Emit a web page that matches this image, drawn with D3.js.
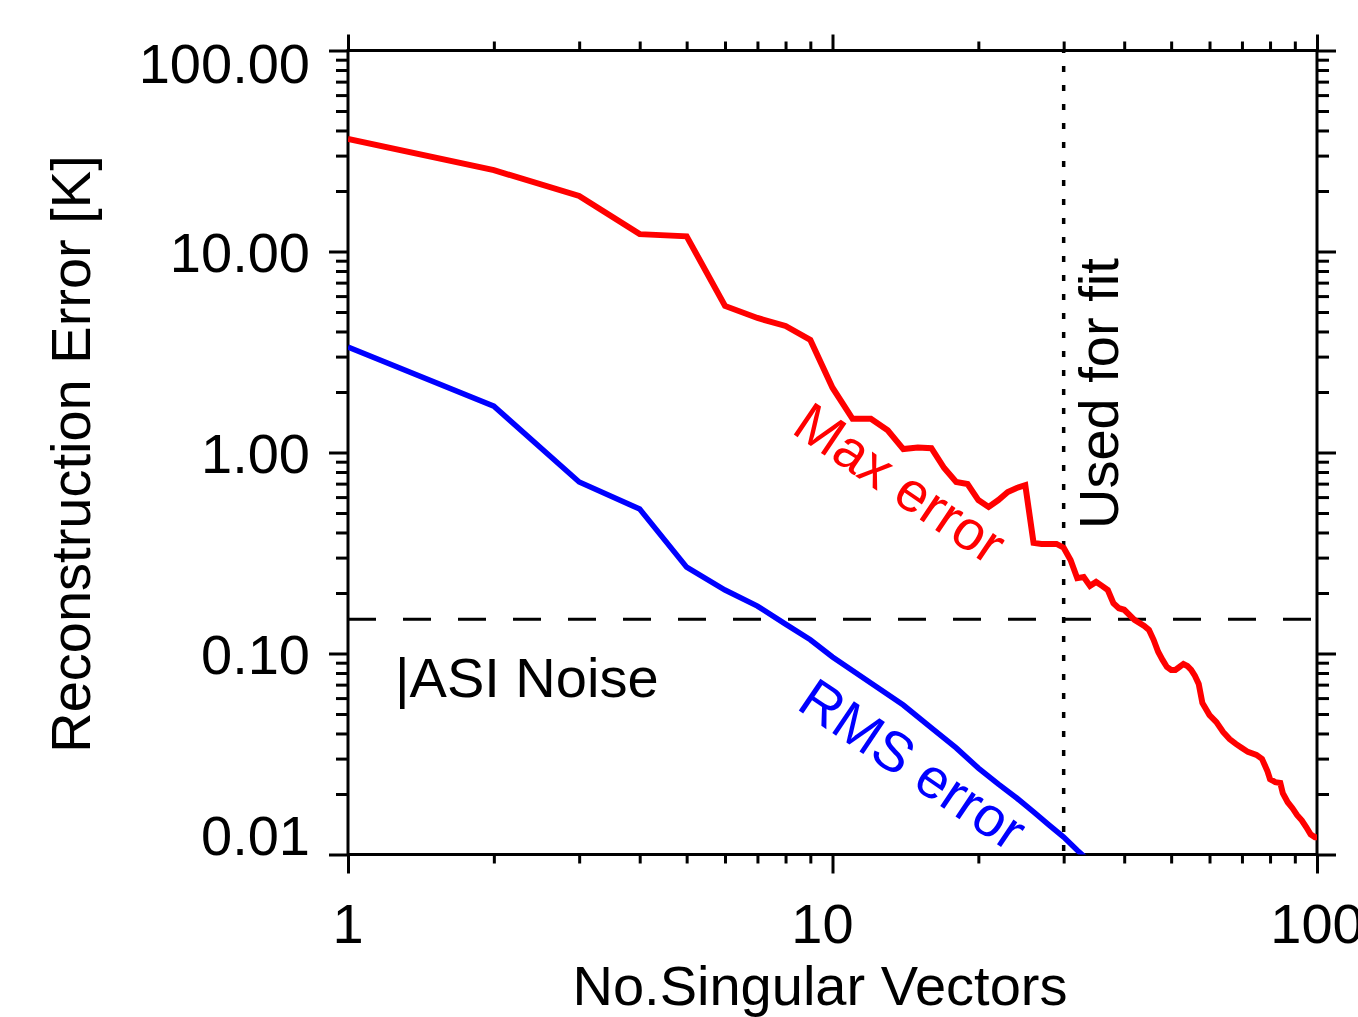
<!DOCTYPE html>
<meta charset="utf-8">
<style>
body { margin: 0; background: #fff; overflow: hidden; }
svg { display: block; }
text { font-family: "Liberation Sans", Arial, sans-serif; font-size: 56px; }
.frame rect { stroke: #000; stroke-width: 3px; fill: none; }
</style>
<body>
<svg id="chart" width="1358" height="1017"></svg>
<script src="https://d3js.org/d3.v7.min.js"></script>
<script>

// max reconstruction error
var maxN = [1,2,3,4,5,6,7,8,9,10,11,12,13,14,15,16,17,18,19,20,21,22,23,24,25,26,27,28,29,30,31,32,33,34,35,36,37,38,39,40,
  42,44,45,46,47,48,49,50,51,52,53,54,55,56,57,58,60,62,64,66,68,70,72,75,77,78,79,80,82,84,85,87,89,91,93,95,97,99,100];
var maxErr = [36.3,25.4,18.9,12.2,11.9,5.36,4.67,4.26,3.63,2.1,1.47,1.47,1.29,1.04,1.06,1.05,0.837,0.713,0.697,0.580,
  0.536,0.580,0.636,0.666,0.688,0.355,0.351,0.351,0.351,0.336,0.292,0.237,0.240,0.217,0.227,0.217,0.207,0.178,0.168,0.165,
  0.147,0.137,0.131,0.117,0.102,0.0929,0.0857,0.0828,0.0828,0.0857,0.0887,0.0867,0.0828,0.0773,0.0705,0.0567,
  0.0494,0.0456,0.0407,0.0375,0.0355,0.0339,0.0324,0.0313,0.0299,0.0279,0.026,0.0237,0.0229,0.0227,0.0202,0.0182,0.017,
  0.0157,0.0148,0.0137,0.0126,0.0122,0.0122];

// rms error
var rmsN = [1,2,3,4,5,6,7,8,9,10,12,14,16,18,20,22,24,26,28,30,32,34];
var rmsErr = [3.35,1.70,0.713,0.523,0.269,0.207,0.172,0.140,0.117,0.0961,0.0713,0.0554,0.0426,0.0339,0.0269,
  0.0224,0.0191,0.0163,0.0140,0.0122,0.0105,0.0092];

var noiseLevel = 0.148;   // |ASI| noise
var fitCut = 30;          // no. of vectors used for fit

var xMajor = [1, 10, 100];
var xMinor = [2,3,4,5,6,7,8,9,20,30,40,50,60,70,80,90];
var yMajor = [0.01, 0.1, 1, 10, 100];
var yMinor = [];
[0.01, 0.1, 1, 10].forEach(function(d){
  for (var k = 2; k <= 9; k++) yMinor.push(+(d * k).toPrecision(3));
});
var yLabels = ["0.01", "0.10", "1.00", "10.00", "100.00"];

// plot box (window.top is reserved, so no plain "top")
var pLeft = 348, pRight = 1317, pTop = 50.5, pBottom = 854.5;

var svg = d3.select("#chart");
var x = d3.scaleLog().domain([1, 100]).range([pLeft, pRight]);
var y = d3.scaleLog().domain([0.01, 100]).range([pBottom, pTop]);

svg.append("clipPath").attr("id", "plotClip")
  .append("rect").attr("x", pLeft).attr("y", pTop)
  .attr("width", pRight - pLeft).attr("height", pBottom - pTop);

// axes, ticks pointing outward like the original
function addAxis(axis, tx, ty) {
  var g = svg.append("g").attr("transform", "translate(" + tx + "," + ty + ")").call(axis);
  g.select(".domain").remove();
  g.selectAll(".tick line").attr("stroke", "#000").attr("stroke-width", 3);
  g.selectAll(".tick text").remove();
  return g;
}
addAxis(d3.axisBottom(x).tickValues(xMajor).tickSize(19).tickSizeOuter(0), 0, pBottom);
addAxis(d3.axisBottom(x).tickValues(xMinor).tickSize(9).tickSizeOuter(0), 0, pBottom);
addAxis(d3.axisTop(x).tickValues(xMajor).tickSize(16).tickSizeOuter(0), 0, pTop);
addAxis(d3.axisTop(x).tickValues(xMinor).tickSize(9).tickSizeOuter(0), 0, pTop);
addAxis(d3.axisLeft(y).tickValues(yMajor).tickSize(19).tickSizeOuter(0), pLeft, 0);
addAxis(d3.axisLeft(y).tickValues(yMinor).tickSize(12).tickSizeOuter(0), pLeft, 0);
addAxis(d3.axisRight(y).tickValues(yMajor).tickSize(19).tickSizeOuter(0), pRight, 0);
addAxis(d3.axisRight(y).tickValues(yMinor).tickSize(12).tickSizeOuter(0), pRight, 0);

svg.append("g").attr("class", "frame").append("rect")
  .attr("x", pLeft).attr("y", pTop)
  .attr("width", pRight - pLeft).attr("height", pBottom - pTop);

// tick labels
svg.append("g").selectAll("text").data(yMajor).enter().append("text")
  .attr("x", 310)
  .attr("y", function(d){ return Math.min(Math.max(y(d), 63), 835); })
  .attr("dy", "0.36em")
  .attr("text-anchor", "end")
  .text(function(d, i){ return yLabels[i]; });

svg.append("g").selectAll("text").data(xMajor).enter().append("text")
  .attr("x", function(d){ return x(d) - (d == 10 ? 10 : 0); })
  .attr("y", 943)
  .attr("text-anchor", "middle")
  .text(function(d){ return d; });

// axis titles
svg.append("text").attr("x", 820).attr("y", 1005).attr("text-anchor", "middle")
  .text("No.Singular Vectors");
svg.append("text").attr("transform", "translate(90,454) rotate(-90)").attr("text-anchor", "middle")
  .text("Reconstruction Error [K]");

// reference lines
svg.append("line")
  .attr("x1", pLeft).attr("x2", pRight)
  .attr("y1", y(noiseLevel)).attr("y2", y(noiseLevel))
  .attr("stroke", "#000").attr("stroke-width", 3)
  .attr("stroke-dasharray", "28,27");
svg.append("line")
  .attr("x1", x(fitCut)).attr("x2", x(fitCut))
  .attr("y1", pTop).attr("y2", pBottom)
  .attr("stroke", "#000").attr("stroke-width", 3.5)
  .attr("stroke-dasharray", "6,13").attr("stroke-dashoffset", 3.5);

// data lines
var line = d3.line()
  .x(function(d){ return x(d[0]); })
  .y(function(d){ return y(d[1]); });

var plot = svg.append("g").attr("clip-path", "url(#plotClip)");
plot.append("path")
  .datum(d3.zip(maxN, maxErr))
  .attr("d", line)
  .attr("fill", "none").attr("stroke", "#ff0000").attr("stroke-width", 6);
plot.append("path")
  .datum(d3.zip(rmsN, rmsErr))
  .attr("d", line)
  .attr("fill", "none").attr("stroke", "#0000ff").attr("stroke-width", 5.5);

// annotations
svg.append("text").attr("transform", "translate(790,432) rotate(34)")
  .attr("fill", "#ff0000").text("Max error");
svg.append("text").attr("transform", "translate(795,708) rotate(34)")
  .attr("fill", "#0000ff").text("RMS error");
svg.append("text").attr("transform", "translate(1118,529) rotate(-90)")
  .text("Used for fit");
svg.append("text").attr("x", 395).attr("y", 697)
  .text("|ASI Noise");

</script>
</body>
